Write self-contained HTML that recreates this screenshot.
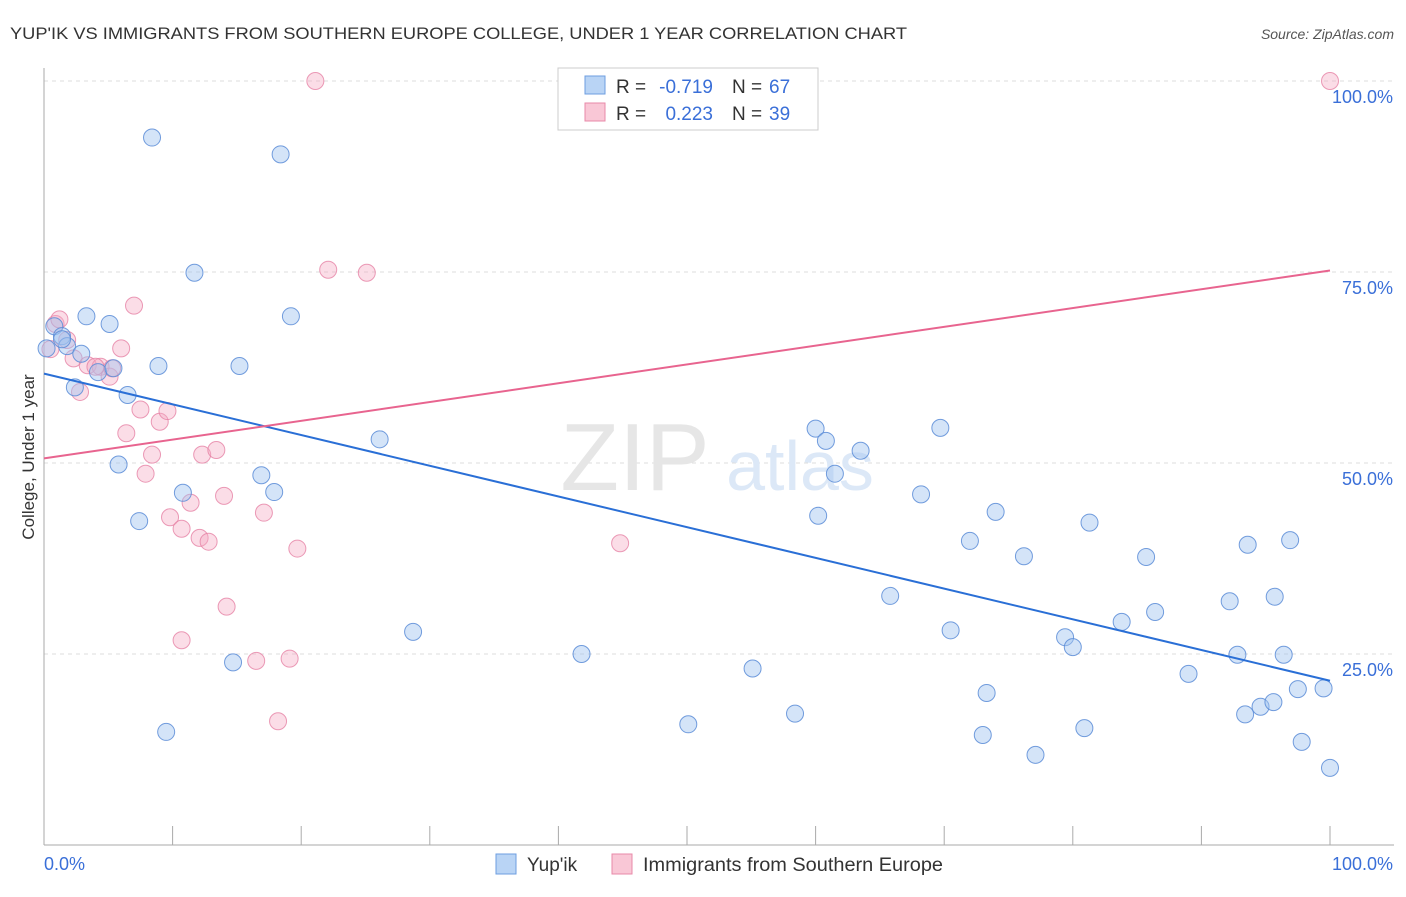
<!DOCTYPE html>
<html><head><meta charset="utf-8"><style>
body{margin:0;background:#fff;font-family:"Liberation Sans",sans-serif;}
svg text{font-family:"Liberation Sans",sans-serif;}
</style></head><body>
<svg id="chart" width="1406" height="892">
<text x="10" y="39" font-size="17" fill="#333" textLength="897" lengthAdjust="spacingAndGlyphs">YUP'IK VS IMMIGRANTS FROM SOUTHERN EUROPE COLLEGE, UNDER 1 YEAR CORRELATION CHART</text>
<text x="1394" y="39" font-size="14" fill="#555" font-style="italic" text-anchor="end">Source: ZipAtlas.com</text>
<g id="grid"></g>
<text x="635" y="490" font-size="96" fill="#e6e6e6" font-family="Liberation Serif" text-anchor="middle">ZIP</text>
<text x="800" y="490" font-size="70" fill="#dce8f7" text-anchor="middle">atlas</text>
<g id="marks"></g>
<text transform="translate(34,457) rotate(-90)" font-size="17" fill="#333" text-anchor="middle">College, Under 1 year</text>
<g>
<rect x="558" y="68" width="260" height="62" fill="#fff" stroke="#ccc"/>
<rect x="585" y="76" width="20" height="18" fill="#b9d4f5" stroke="#6d9ee0"/>
<rect x="585" y="103" width="20" height="18" fill="#f9c7d6" stroke="#e88aa8"/>
<text x="616" y="93" font-size="19" fill="#333">R =</text>
<text x="713" y="93" font-size="19" fill="#3a6fd8" text-anchor="end">-0.719</text>
<text x="732" y="93" font-size="19" fill="#333">N =</text>
<text x="769" y="93" font-size="19" fill="#3a6fd8">67</text>
<text x="616" y="120" font-size="19" fill="#333">R =</text>
<text x="713" y="120" font-size="19" fill="#3a6fd8" text-anchor="end">0.223</text>
<text x="732" y="120" font-size="19" fill="#333">N =</text>
<text x="769" y="120" font-size="19" fill="#3a6fd8">39</text>
</g>
<g>
<rect x="496" y="854" width="20" height="20" fill="#b9d4f5" stroke="#6d9ee0"/>
<text x="527" y="871" font-size="19" fill="#333">Yup'ik</text>
<rect x="612" y="854" width="20" height="20" fill="#f9c7d6" stroke="#e88aa8"/>
<text x="643" y="871" font-size="19" fill="#333" textLength="300" lengthAdjust="spacingAndGlyphs">Immigrants from Southern Europe</text>
</g>
</svg>
<script>
const yTicks=[25,50,75,100];
const xTickLabels=["0.0%","100.0%"];
const blueX=[0.2,0.8,1.4,1.8,2.4,2.9,3.3,4.2,5.1,5.4,6.5,5.8,7.4,8.4,8.9,9.5,10.8,11.7,14.7,15.2,16.9,17.9,18.4,19.2,26.1,28.7,41.8,50.1,55.1,58.4,60,60.2,60.8,61.5,63.5,65.8,68.2,69.7,70.5,72,73,73.3,74,76.2,77.1,79.4,80,80.9,81.3,83.8,85.7,86.4,89,92.2,92.8,93.4,93.6,94.6,95.6,95.7,96.4,96.9,97.5,97.8,99.5,100,1.4];
const blueY=[65,67.9,66.6,65.3,59.9,64.3,69.2,61.9,68.2,62.4,58.9,49.8,42.4,92.6,62.7,14.8,46.1,74.9,23.9,62.7,48.4,46.2,90.4,69.2,53.1,27.9,25,15.8,23.1,17.2,54.5,43.1,52.9,48.6,51.6,32.6,45.9,54.6,28.1,39.8,14.4,19.9,43.6,37.8,11.8,27.2,25.9,15.3,42.2,29.2,37.7,30.5,22.4,31.9,24.9,17.1,39.3,18.1,18.7,32.5,24.9,39.9,20.4,13.5,20.5,10.1,66.2];
const pinkX=[0.5,0.9,1.2,1.8,2.3,2.8,3.4,4.4,5.1,6,6.4,7,7.5,7.9,8.4,9,9.6,9.8,10.7,10.7,11.4,12.1,12.3,12.8,13.4,14,14.2,16.5,17.1,18.2,19.1,19.7,21.1,22.1,25.1,44.8,100,5.3,4];
const pinkY=[64.9,68.2,68.8,66.1,63.7,59.3,62.8,62.6,61.3,65,53.9,70.6,57,48.6,51.1,55.4,56.8,42.9,26.8,41.4,44.8,40.2,51.1,39.7,51.7,45.7,31.2,24.1,43.5,16.2,24.4,38.8,100,75.3,74.9,39.5,100,62.4,62.6];
const blueFit=[61.7,21.5], pinkFit=[50.6,75.2];
const X=v=>44+v*12.86, Y=v=>845-v*7.64;
const NS="http://www.w3.org/2000/svg";
const grid=document.getElementById('grid'), marks=document.getElementById('marks');
function mk(tag,attrs,parent){const e=document.createElementNS(NS,tag);for(const k in attrs)e.setAttribute(k,attrs[k]);parent.appendChild(e);return e;}
yTicks.forEach(t=>{
  const l=mk('line',{x1:44,x2:1394,y1:Y(t),y2:Y(t),stroke:'#ddd','stroke-dasharray':'4,4'},grid);
  
  
  const tx=mk('text',{x:1393,y:Y(t)+22,'font-size':18,fill:'#3a6fd8','text-anchor':'end'},grid);
  tx.textContent=t.toFixed(1)+'%';
  
  
});
const ax=mk('line',{x1:44,x2:44,y1:68,y2:845,stroke:'#aaa'},grid);


const bx=mk('line',{x1:44,x2:1394,y1:845,y2:845,stroke:'#aaa'},grid);


for(let i=1;i<=10;i++){const t=mk('line',{x1:X(i*10),x2:X(i*10),y1:826,y2:845,stroke:'#aaa'},grid);
  
  }
const xl0=mk('text',{x:44,y:870,'font-size':18,fill:'#3a6fd8'},grid);xl0.textContent=xTickLabels[0];


const xl1=mk('text',{x:1393,y:870,'font-size':18,fill:'#3a6fd8','text-anchor':'end'},grid);xl1.textContent=xTickLabels[1];


pinkX.forEach((v,i)=>{const c=mk('circle',{cx:X(v),cy:Y(pinkY[i]),r:8.5,fill:'rgba(246,170,195,0.4)',stroke:'rgba(230,130,165,0.8)'},marks);
  
  });
blueX.forEach((v,i)=>{const c=mk('circle',{cx:X(v),cy:Y(blueY[i]),r:8.5,fill:'rgba(160,195,240,0.45)',stroke:'rgba(90,140,215,0.85)'},marks);
  
  });
const bl=mk('line',{x1:X(0),y1:Y(blueFit[0]),x2:X(100),y2:Y(blueFit[1]),stroke:'#2a6fd6','stroke-width':2},marks);


const pl=mk('line',{x1:X(0),y1:Y(pinkFit[0]),x2:X(100),y2:Y(pinkFit[1]),stroke:'#e8648f','stroke-width':2},marks);


</script>
</body></html>
